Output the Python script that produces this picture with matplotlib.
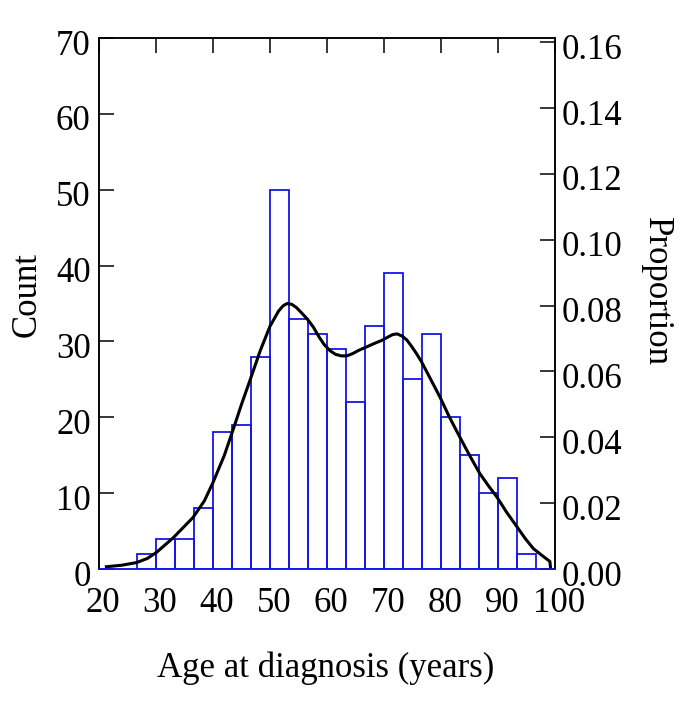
import numpy as np
import matplotlib.pyplot as plt
import matplotlib.transforms as mtransforms

plt.rcParams['font.family'] = ['Liberation Serif', 'DejaVu Serif']

# histogram: bins of width 10/3 years from 26.67 to 96.67
bin_edges = [80 / 3 + i * 10 / 3 for i in range(22)]
counts = [2, 4, 4, 8, 18, 19, 28, 50, 33, 31, 29, 22, 32, 39, 25, 31, 20, 15, 10, 12, 2]
n_total = sum(counts)

# smoothed density curve (in count units)
curve_x = [21.3, 24.0, 26.6, 28.5, 30.1, 33.0, 36.5, 38.5, 40.0, 42.0, 43.5, 45.0, 46.5,
           48.3, 50.0, 51.5, 52.3, 53.0, 53.8, 54.6, 55.5, 56.5, 57.6, 58.6, 59.5, 60.5,
           61.5, 62.5, 63.5, 64.5, 65.5, 67.0, 68.5, 69.5, 70.5, 71.5, 72.3, 73.2, 74.0,
           74.8, 75.7, 76.6, 78.2, 79.8, 81.5, 83.3, 85.0, 86.8, 88.3, 89.8, 91.5, 93.3,
           94.8, 96.2, 97.7, 99.1, 99.2]
curve_y = [0.3, 0.5, 0.85, 1.4, 2.2, 4.1, 6.8, 9.0, 11.4, 15.0, 18.3, 21.7, 24.9,
           28.8, 32.0, 34.0, 34.7, 35.0, 34.9, 34.5, 33.8, 33.0, 31.9, 30.6, 29.6, 28.8,
           28.3, 28.1, 28.1, 28.4, 28.8, 29.3, 29.8, 30.1, 30.5, 30.9, 31.0, 30.7, 30.2,
           29.4, 28.4, 27.3, 25.0, 22.7, 20.0, 17.4, 15.0, 12.6, 11.0, 9.5, 7.5, 5.6,
           4.0, 2.7, 1.8, 1.0, 0.3]

xticks = [20, 30, 40, 50, 60, 70, 80, 90, 100]
yticks = [0, 10, 20, 30, 40, 50, 60, 70]
pticks = [0.00, 0.02, 0.04, 0.06, 0.08, 0.10, 0.12, 0.14, 0.16]

fig = plt.figure(figsize=(6.85, 7.19), dpi=100)
ax = fig.add_axes([0.1445, 0.2086, 0.6657, 0.7385])

blue = '#1515e6'
ax.hist(np.array(bin_edges[:-1]) + 5 / 3, bins=bin_edges, weights=counts,
        histtype='bar', facecolor='none', edgecolor=blue, linewidth=1.3)
ax.plot(curve_x, curve_y, color='black', linewidth=2.2)

ax.set_xlim(20, 100)
ax.set_ylim(0, 70)
ax.set_xticks(xticks)
ax.set_yticks(yticks)
ax.tick_params(axis='both', labelsize=25, direction='in', length=11, width=1.1)
ax.tick_params(axis='x', bottom=False, top=True, labeltop=False, labelbottom=True, pad=13)
ax.tick_params(axis='y', pad=6)
for s in ax.spines.values():
    s.set_linewidth(1.1)
ax.spines['bottom'].set_color(blue)

ax2 = ax.twinx()
ax2.set_ylim(0, 70 / n_total)
ax2.set_yticks(pticks)
ax2.set_yticklabels(['%.2f' % p for p in pticks])
ax2.tick_params(axis='y', labelsize=25, direction='in', length=11, width=1.1, pad=5)
for s in ax2.spines.values():
    s.set_linewidth(1.1)
ax2.spines['bottom'].set_color(blue)

# small offsets of the tick labels as in the original
shift_x = mtransforms.ScaledTranslation(0.04, 0, fig.dpi_scale_trans)
shift_y = mtransforms.ScaledTranslation(0, -0.04, fig.dpi_scale_trans)
for lab in ax.get_xticklabels():
    lab.set_transform(lab.get_transform() + shift_x)
for lab in ax.get_yticklabels() + ax2.get_yticklabels():
    lab.set_transform(lab.get_transform() + shift_y)

fig.text(0.040, 0.59, 'Count', rotation=90, ha='center', va='center', fontsize=25)
fig.text(0.958, 0.595, 'Proportion', rotation=270, ha='center', va='center', fontsize=25)
fig.text(0.475, 0.071, 'Age at diagnosis (years)', ha='center', va='center', fontsize=25)

fig.savefig('out.png', dpi=100)
